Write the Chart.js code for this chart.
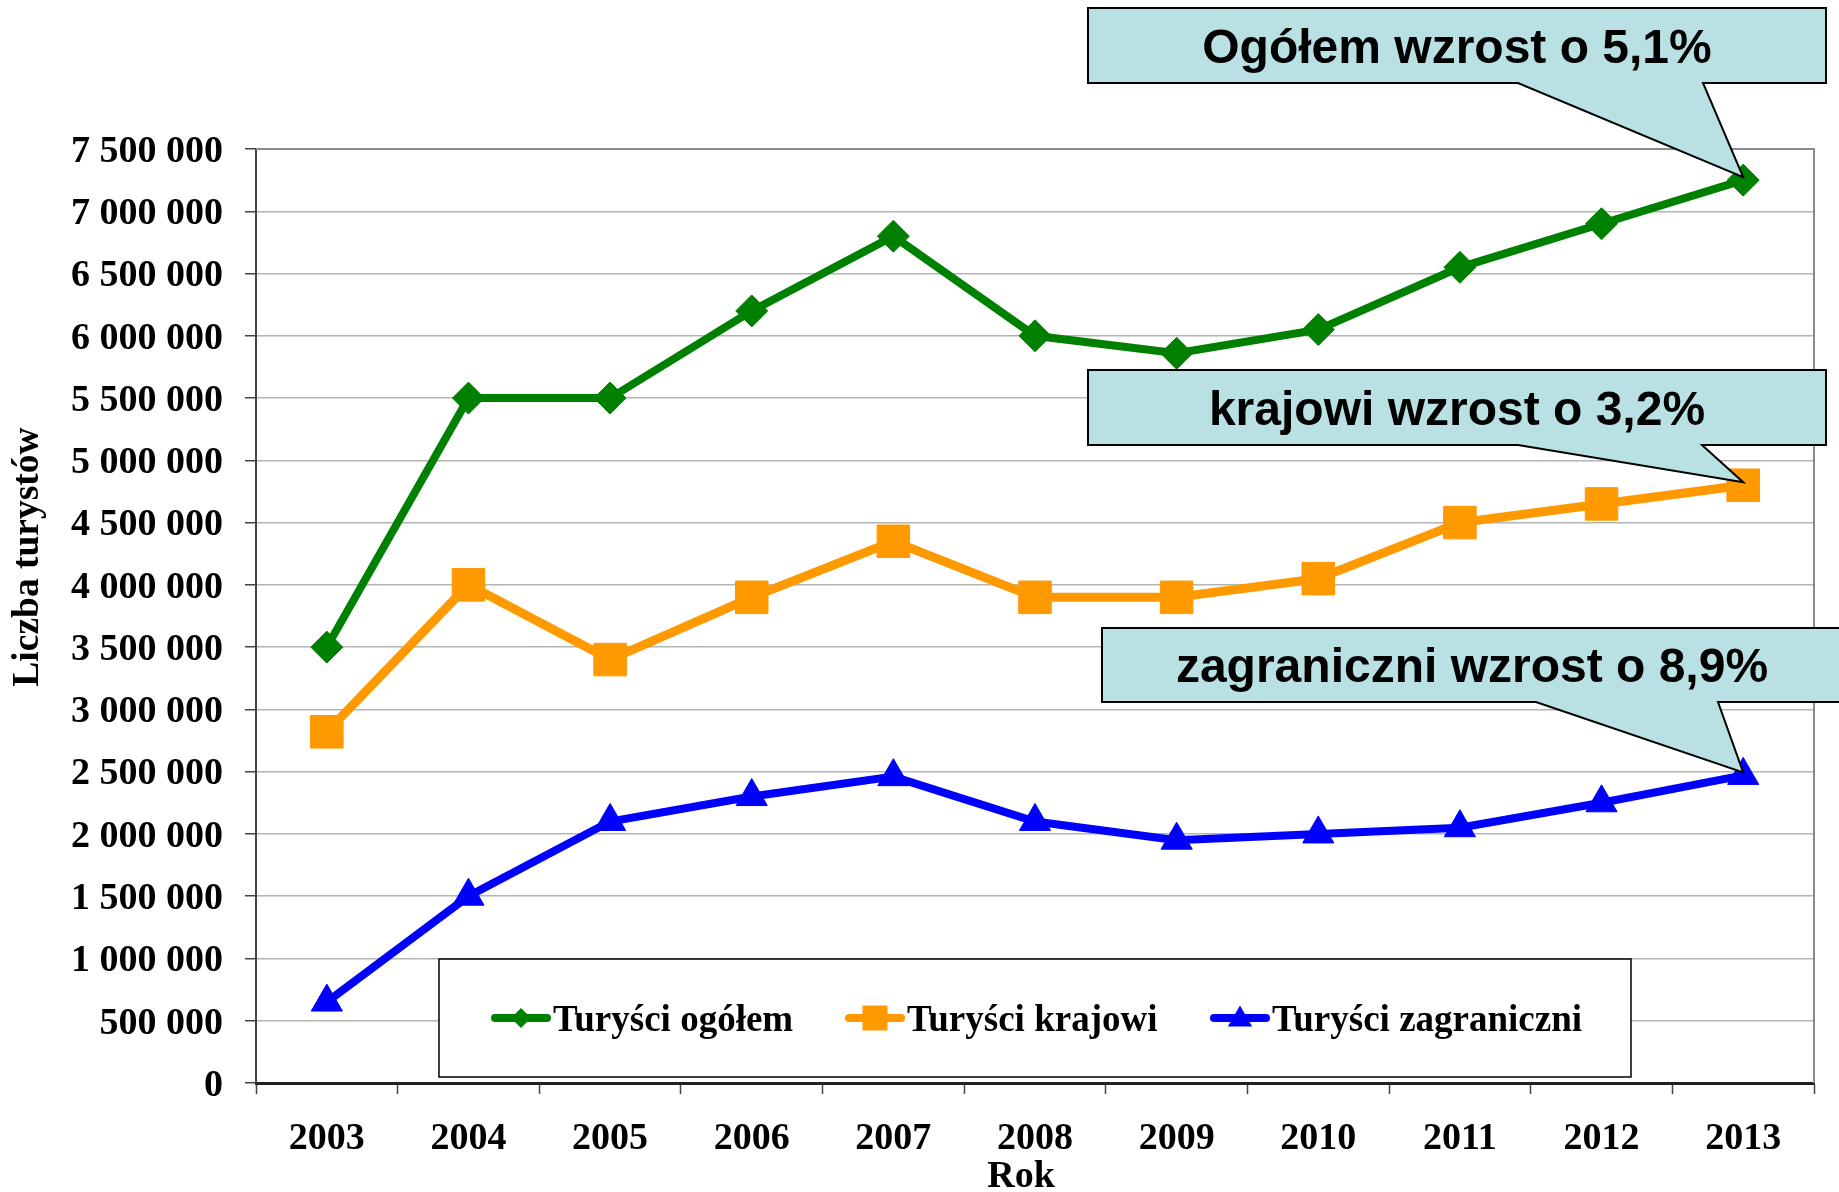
<!DOCTYPE html>
<html lang="pl">
<head>
  <meta charset="UTF-8">
  <title>Liczba turystów 2003-2013</title>
  <script src="https://cdn.jsdelivr.net/npm/chart.js"></script>
  <style>
    body {
      margin: 0;
      background-color: white;
    }
    #box {
      width: 1839px;
      height: 1192px;
      position: relative;
    }
  </style>
</head>
<body>
  <div id="box">
    <canvas id="wykres"></canvas>
  </div>

  <script>
    // dane
    const lata = ['2003', '2004', '2005', '2006', '2007', '2008', '2009', '2010', '2011', '2012', '2013'];
    const ogolem = [3500000, 5500000, 5500000, 6200000, 6800000, 6000000, 5860000, 6050000, 6550000, 6900000, 7250000];
    const krajowi = [2820000, 4000000, 3400000, 3900000, 4350000, 3900000, 3900000, 4050000, 4500000, 4650000, 4800000];
    const zagraniczni = [650000, 1500000, 2100000, 2300000, 2460000, 2100000, 1950000, 2000000, 2050000, 2250000, 2470000];
    const etykiety = ['Turyści ogółem', 'Turyści krajowi', 'Turyści zagraniczni'];
    const dymki = ['Ogółem wzrost o 5,1%', 'krajowi wzrost o 3,2%', 'zagraniczni wzrost o 8,9%'];

    const serif = '"Liberation Serif", "Times New Roman", serif';
    const sans = '"Liberation Sans", Arial, sans-serif';

    function spacje(v) {
      return String(v).replace(/\B(?=(\d{3})+(?!\d))/g, ' ');
    }

    function znacznik(ctx, styl, x, y, r, kolor) {
      ctx.save();
      ctx.fillStyle = kolor;
      ctx.beginPath();
      if (styl === 'rectRot') {
        ctx.moveTo(x - r, y);
        ctx.lineTo(x, y - r);
        ctx.lineTo(x + r, y);
        ctx.lineTo(x, y + r);
      } else if (styl === 'rect') {
        ctx.rect(x - r, y - r, 2 * r, 2 * r);
      } else {
        const h = r * 1.5;
        ctx.moveTo(x, y - h * 0.6);
        ctx.lineTo(x + r * 0.87, y + h * 0.4);
        ctx.lineTo(x - r * 0.87, y + h * 0.4);
      }
      ctx.closePath();
      ctx.fill();
      ctx.restore();
    }

    // ramka, tytuły osi, legenda i dymki
    const dodatki = {
      id: 'dodatki',
      beforeDatasetsDraw(chart) {
        const ctx = chart.ctx;
        const a = chart.chartArea;
        ctx.save();
        ctx.strokeStyle = '#8c8c8c';
        ctx.lineWidth = 2;
        ctx.beginPath();
        ctx.moveTo(a.left, a.top);
        ctx.lineTo(a.right, a.top);
        ctx.lineTo(a.right, a.bottom);
        ctx.stroke();
        ctx.restore();
      },
      afterDatasetsDraw(chart) {
        const ctx = chart.ctx;
        const x = chart.scales.x;
        const y = chart.scales.y;

        // tytuł osi Y
        ctx.save();
        ctx.translate(28, 557);
        ctx.rotate(-Math.PI / 2);
        ctx.font = 'bold 37.5px ' + serif;
        ctx.fillStyle = 'black';
        ctx.textAlign = 'center';
        ctx.textBaseline = 'middle';
        ctx.fillText('Liczba turystów', 0, 0);
        ctx.restore();

        // tytuł osi X
        ctx.save();
        ctx.font = 'bold 38px ' + serif;
        ctx.fillStyle = 'black';
        ctx.textAlign = 'center';
        ctx.textBaseline = 'middle';
        ctx.fillText('Rok', 1021, 1177);
        ctx.restore();

        // legenda
        ctx.save();
        ctx.fillStyle = 'white';
        ctx.fillRect(439, 959, 1192, 118);
        ctx.strokeStyle = 'black';
        ctx.lineWidth = 1.5;
        ctx.strokeRect(439, 959, 1192, 118);
        const startX = [492, 846, 1211];
        const rozmiar = [10, 12.5, 14];
        chart.data.datasets.forEach((ds, i) => {
          const lx = startX[i];
          const ly = 1018;
          ctx.strokeStyle = ds.borderColor;
          ctx.lineWidth = 8;
          ctx.lineCap = 'round';
          ctx.beginPath();
          ctx.moveTo(lx + 3, ly);
          ctx.lineTo(lx + 55, ly);
          ctx.stroke();
          znacznik(ctx, ds.pointStyle, lx + 29, ly, rozmiar[i], ds.borderColor);
          ctx.font = 'bold 37px ' + serif;
          ctx.fillStyle = 'black';
          ctx.textAlign = 'left';
          ctx.textBaseline = 'middle';
          ctx.fillText(ds.label, lx + 61, ly + 3);
        });
        ctx.restore();

        // dymki wskazujące rok 2013
        const ramki = [
          { l: 1088, r: 1826, t: 8, b: 83, bl: 1518, br: 1703, seria: ogolem },
          { l: 1088, r: 1826, t: 370, b: 445, bl: 1518, br: 1702, seria: krajowi },
          { l: 1102, r: 1842, t: 628, b: 702, bl: 1536, br: 1718, seria: zagraniczni }
        ];
        const ost = lata.length - 1;
        ramki.forEach((d, i) => {
          const px = x.getPixelForValue(ost);
          const py = y.getPixelForValue(d.seria[ost]);
          ctx.save();
          ctx.beginPath();
          ctx.moveTo(d.l, d.t);
          ctx.lineTo(d.r, d.t);
          ctx.lineTo(d.r, d.b);
          ctx.lineTo(d.br, d.b);
          ctx.lineTo(px, py - 3);
          ctx.lineTo(d.bl, d.b);
          ctx.lineTo(d.l, d.b);
          ctx.closePath();
          ctx.fillStyle = '#b9e0e3';
          ctx.fill();
          ctx.strokeStyle = 'black';
          ctx.lineWidth = 2;
          ctx.lineJoin = 'miter';
          ctx.stroke();
          ctx.font = 'bold 48px ' + sans;
          ctx.fillStyle = 'black';
          ctx.textAlign = 'center';
          ctx.textBaseline = 'middle';
          ctx.fillText(dymki[i], (d.l + d.r) / 2, (d.t + d.b) / 2 + 4);
          ctx.restore();
        });
      }
    };

    const ctx = document.getElementById('wykres').getContext('2d');
    new Chart(ctx, {
      type: 'line',
      data: {
        labels: lata,
        datasets: [
          {
            label: etykiety[0],
            data: ogolem,
            borderColor: '#008000',
            backgroundColor: '#008000',
            borderWidth: 8,
            pointStyle: 'rectRot',
            pointRadius: 16,
            pointBorderWidth: 1,
            tension: 0
          },
          {
            label: etykiety[1],
            data: krajowi,
            borderColor: '#ff9900',
            backgroundColor: '#ff9900',
            borderWidth: 9,
            pointStyle: 'rect',
            pointRadius: 23,
            pointBorderWidth: 1,
            tension: 0
          },
          {
            label: etykiety[2],
            data: zagraniczni,
            borderColor: '#0000ff',
            backgroundColor: '#0000ff',
            borderWidth: 8,
            pointStyle: 'triangle',
            pointRadius: 18,
            pointBorderWidth: 1,
            tension: 0
          }
        ]
      },
      options: {
        responsive: true,
        maintainAspectRatio: false,
        animation: false,
        layout: {
          padding: { top: 149, right: 25, left: 0, bottom: 0 }
        },
        plugins: {
          legend: { display: false },
          tooltip: { enabled: false }
        },
        scales: {
          x: {
            offset: true,
            afterFit: (s) => { s.height = 109; },
            grid: {
              offset: true,
              drawOnChartArea: false,
              tickLength: 11,
              tickColor: '#444',
              tickWidth: 1.5
            },
            border: { color: '#222', width: 3 },
            ticks: {
              color: 'black',
              padding: 22,
              font: { family: serif, size: 38, weight: 'bold' }
            }
          },
          y: {
            min: 0,
            max: 7500000,
            afterFit: (s) => { s.width = 256; },
            grid: {
              color: '#b4b4b4',
              lineWidth: 1.5,
              tickLength: 11,
              tickColor: '#444',
              tickWidth: 1.5
            },
            border: { color: '#444', width: 2 },
            ticks: {
              stepSize: 500000,
              color: 'black',
              padding: 22,
              labelOffset: 3,
              font: { family: serif, size: 38, weight: 'bold' },
              callback: (v) => spacje(v)
            }
          }
        }
      },
      plugins: [dodatki]
    });
  </script>
</body>
</html>
